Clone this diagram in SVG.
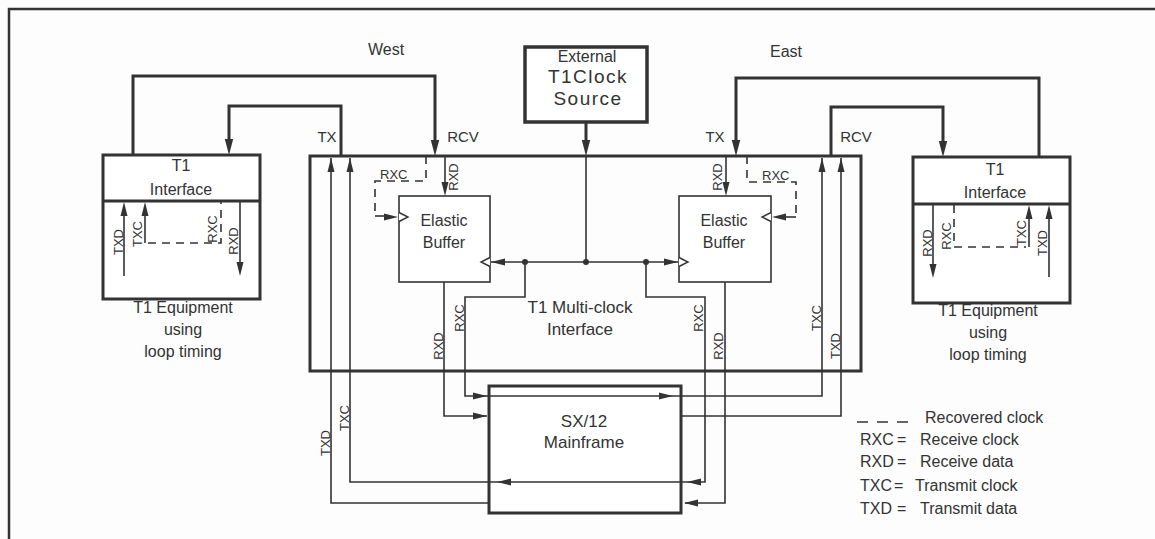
<svg xmlns="http://www.w3.org/2000/svg" xmlns:xlink="http://www.w3.org/1999/xlink" width="1155" height="539" viewBox="0 0 1155 539">
<defs>
<style>
.frame{stroke:#333;stroke-width:2.5;fill:none}
.box{fill:#fff;stroke:#333;stroke-width:3}
.boxh{fill:#fff;stroke:#333;stroke-width:3.5}
.mbox{fill:none;stroke:#333;stroke-width:3}
.ebox{fill:#fff;stroke:#333;stroke-width:1.6}
.thick{stroke:#333;stroke-width:3;fill:none}
.thin{stroke:#333;stroke-width:1.6;fill:none}
.dash{stroke:#333;stroke-width:1.6;fill:none;stroke-dasharray:8 6}
.clk{fill:#fff;stroke:#333;stroke-width:1.4}
.dot{fill:#333}
text{font-family:"Liberation Sans",Arial,Helvetica,sans-serif;fill:#333}
.f16{font-size:16px}
.f15{font-size:15px}
.f13{font-size:13px}
.f17{font-size:17px}
.f19{font-size:19px;letter-spacing:1.5px}
.mid{text-anchor:middle}
</style>
<path id="ah" d="M0,0 L-14,-3.5 L-14,3.5 Z" fill="#333"/>
<path id="ahb" d="M0,0 L-16,-4.2 L-16,4.2 Z" fill="#333"/>
<path id="clkR" d="M0,-4.5 L9,0 L0,4.5" class="clk"/>
<path id="clkL" d="M0,-4.5 L-9,0 L0,4.5" class="clk"/>
</defs>
<rect x="0" y="0" width="1155" height="539" fill="#fdfdfd"/>
<g id="frame">
<path class="frame" d="M9,539 V9 H1155"/>
</g>

<g id="multiclock-interface">
<rect class="mbox" x="310" y="156" width="551" height="215"/>
<text class="f17 mid" x="580" y="313">T1 Multi-clock</text>
<text class="f17 mid" x="580" y="335">Interface</text>
</g>

<g id="external-clock">
<rect class="boxh" x="525" y="47" width="122" height="75"/>
<text class="f16 mid" x="587" y="62">External</text>
<text class="f19 mid" x="588" y="83">T1Clock</text>
<text class="f19 mid" x="588" y="104.5">Source</text>
</g>

<g id="west-t1">
<rect class="box" x="103" y="155" width="157" height="144"/>
<line class="thick" x1="103" y1="201" x2="260" y2="201"/>
<text class="f16 mid" x="181" y="171">T1</text>
<text class="f16 mid" x="181" y="195">Interface</text>
<text class="f16 mid" x="183" y="313">T1 Equipment</text>
<text class="f16 mid" x="183" y="335">using</text>
<text class="f16 mid" x="183" y="357">loop timing</text>
</g>

<g id="east-t1">
<rect class="box" x="913" y="157" width="157" height="146"/>
<line class="thick" x1="913" y1="204" x2="1070" y2="204"/>
<text class="f16 mid" x="995" y="175">T1</text>
<text class="f16 mid" x="995" y="198">Interface</text>
<text class="f16 mid" x="988" y="316">T1 Equipment</text>
<text class="f16 mid" x="988" y="338">using</text>
<text class="f16 mid" x="988" y="360">loop timing</text>
</g>

<g id="west-buffer">
<rect class="ebox" x="399" y="196" width="91" height="86"/>
<text class="f16 mid" x="444" y="226">Elastic</text>
<text class="f16 mid" x="444" y="248">Buffer</text>
<use xlink:href="#clkR" href="#clkR" x="399" y="217"/>
<use xlink:href="#clkL" href="#clkL" x="490" y="262"/>
</g>

<g id="east-buffer">
<rect class="ebox" x="679" y="196" width="92" height="86"/>
<text class="f16 mid" x="724" y="226">Elastic</text>
<text class="f16 mid" x="724" y="248">Buffer</text>
<use xlink:href="#clkR" href="#clkR" x="679" y="262"/>
<use xlink:href="#clkL" href="#clkL" x="771" y="217"/>
</g>

<g id="mainframe">
<rect class="box" x="489" y="386" width="192" height="127"/>
<text class="f17 mid" x="584" y="427">SX/12</text>
<text class="f17 mid" x="584" y="448">Mainframe</text>
</g>

<g id="connectors">
<!-- thick T1 loops -->
<path class="thick" d="M133,155 V76 H435 V142"/>
<use xlink:href="#ahb" href="#ahb" transform="translate(435,156) rotate(90)"/>
<path class="thick" d="M341,156 V106 H229 V141"/>
<use xlink:href="#ahb" href="#ahb" transform="translate(229,155) rotate(90)"/>
<path class="thick" d="M1039,157 V78 H736 V142"/>
<use xlink:href="#ahb" href="#ahb" transform="translate(736,156) rotate(90)"/>
<path class="thick" d="M831,156 V107 H943 V143"/>
<use xlink:href="#ahb" href="#ahb" transform="translate(943,157) rotate(90)"/>
<path class="thick" d="M586,122 V142"/>
<use xlink:href="#ahb" href="#ahb" transform="translate(586,156) rotate(90)"/>

<!-- clock distribution -->
<path class="thin" d="M586,156 V262"/>
<path class="thin" d="M491,262 H678"/>
<use xlink:href="#ah" href="#ah" transform="translate(491,262) rotate(180)"/>
<use xlink:href="#ah" href="#ah" transform="translate(678,262)"/>
<circle class="dot" cx="525" cy="262" r="3"/>
<circle class="dot" cx="586" cy="262" r="3"/>
<circle class="dot" cx="646" cy="262" r="3"/>

<!-- west RXC to mainframe, east TXC up -->
<path class="thin" d="M525,262 V297 H465 V396 H822 V158"/>
<use xlink:href="#ah" href="#ah" transform="translate(487,396)"/>
<use xlink:href="#ah" href="#ah" transform="translate(673,396)"/>
<use xlink:href="#ah" href="#ah" transform="translate(822,158) rotate(-90)"/>

<!-- east RXC to mainframe, west TXC up -->
<path class="thin" d="M646,262 V297 H705 V482 H350 V158"/>
<use xlink:href="#ah" href="#ah" transform="translate(687,482) rotate(180)"/>
<use xlink:href="#ah" href="#ah" transform="translate(497,482) rotate(180)"/>
<use xlink:href="#ah" href="#ah" transform="translate(350,158) rotate(-90)"/>

<!-- west RXD -->
<path class="thin" d="M444,282 V416 H487"/>
<use xlink:href="#ah" href="#ah" transform="translate(487,416)"/>
<!-- east TXD -->
<path class="thin" d="M681,416 H841 V158"/>
<use xlink:href="#ah" href="#ah" transform="translate(841,158) rotate(-90)"/>
<!-- east RXD -->
<path class="thin" d="M725,282 V503 H685"/>
<use xlink:href="#ah" href="#ah" transform="translate(684,503) rotate(180)"/>
<!-- west TXD -->
<path class="thin" d="M489,503 H331 V158"/>
<use xlink:href="#ah" href="#ah" transform="translate(331,158) rotate(-90)"/>

<!-- RXD into buffers -->
<path class="thin" d="M445,156 V184"/>
<use xlink:href="#ah" href="#ah" transform="translate(445,196) rotate(90)"/>
<path class="thin" d="M726,156 V184"/>
<use xlink:href="#ah" href="#ah" transform="translate(726,196) rotate(90)"/>

<!-- recovered clock (dashed) into buffers -->
<path class="dash" d="M426,156 V181 H375 V216"/>
<path class="thin" d="M375,216 H386"/>
<use xlink:href="#ah" href="#ah" transform="translate(398,217)"/>
<path class="dash" d="M747,156 V182 H796 V217"/>
<path class="thin" d="M796,217 H784"/>
<use xlink:href="#ah" href="#ah" transform="translate(772,217) rotate(180)"/>

<!-- inside west T1 equipment -->
<path class="thin" d="M124,276 V214"/>
<use xlink:href="#ah" href="#ah" transform="translate(124,202) rotate(-90)"/>
<path class="thin" d="M145,243 V214"/>
<use xlink:href="#ah" href="#ah" transform="translate(145,202) rotate(-90)"/>
<path class="dash" d="M148,243 H221 V202"/>
<path class="thin" d="M240,201 V264"/>
<use xlink:href="#ah" href="#ah" transform="translate(240,276) rotate(90)"/>

<!-- inside east T1 equipment -->
<path class="thin" d="M933,204 V266"/>
<use xlink:href="#ah" href="#ah" transform="translate(933,278) rotate(90)"/>
<path class="dash" d="M954,205 V247 H1026"/>
<path class="thin" d="M1029,247 V217"/>
<use xlink:href="#ah" href="#ah" transform="translate(1029,205) rotate(-90)"/>
<path class="thin" d="M1049,277 V217"/>
<use xlink:href="#ah" href="#ah" transform="translate(1049,205) rotate(-90)"/>
</g>

<g id="labels">
<text class="f16 mid" x="386" y="55">West</text>
<text class="f16 mid" x="786" y="57">East</text>
<text class="f15 mid" x="327" y="142">TX</text>
<text class="f15 mid" x="463" y="142">RCV</text>
<text class="f15 mid" x="715" y="142">TX</text>
<text class="f15 mid" x="856" y="142">RCV</text>
<text class="f13" x="380" y="179">RXC</text>
<text class="f13" x="762" y="180">RXC</text>

<text class="f13 mid" transform="translate(458,177) rotate(-90)">RXD</text>
<text class="f13 mid" transform="translate(722,177) rotate(-90)">RXD</text>

<text class="f13 mid" transform="translate(123,242) rotate(-90)">TXD</text>
<text class="f13 mid" transform="translate(142,234) rotate(-90)">TXC</text>
<text class="f13 mid" transform="translate(217,229) rotate(-90)">RXC</text>
<text class="f13 mid" transform="translate(238,241) rotate(-90)">RXD</text>

<text class="f13 mid" transform="translate(932,243) rotate(-90)">RXD</text>
<text class="f13 mid" transform="translate(951,236) rotate(-90)">RXC</text>
<text class="f13 mid" transform="translate(1026,233) rotate(-90)">TXC</text>
<text class="f13 mid" transform="translate(1047,243) rotate(-90)">TXD</text>

<text class="f13 mid" transform="translate(443,346) rotate(-90)">RXD</text>
<text class="f13 mid" transform="translate(464,318) rotate(-90)">RXC</text>
<text class="f13 mid" transform="translate(703,318) rotate(-90)">RXC</text>
<text class="f13 mid" transform="translate(723,346) rotate(-90)">RXD</text>
<text class="f13 mid" transform="translate(821,318) rotate(-90)">TXC</text>
<text class="f13 mid" transform="translate(840,346) rotate(-90)">TXD</text>
<text class="f13 mid" transform="translate(330,443) rotate(-90)">TXD</text>
<text class="f13 mid" transform="translate(349,418) rotate(-90)">TXC</text>
</g>

<g id="legend">
<line class="thin" x1="857" y1="422" x2="908" y2="422" stroke-dasharray="11 9"/>
<text class="f16" x="925" y="423">Recovered clock</text>
<text class="f16" y="445"><tspan x="860">RXC</tspan><tspan x="897">=</tspan><tspan x="920">Receive clock</tspan></text>
<text class="f16" y="467"><tspan x="860">RXD</tspan><tspan x="897">=</tspan><tspan x="920">Receive data</tspan></text>
<text class="f16" y="491"><tspan x="860">TXC</tspan><tspan x="894">=</tspan><tspan x="915">Transmit clock</tspan></text>
<text class="f16" y="514"><tspan x="860">TXD</tspan><tspan x="897">=</tspan><tspan x="920">Transmit data</tspan></text>
</g>
</svg>
